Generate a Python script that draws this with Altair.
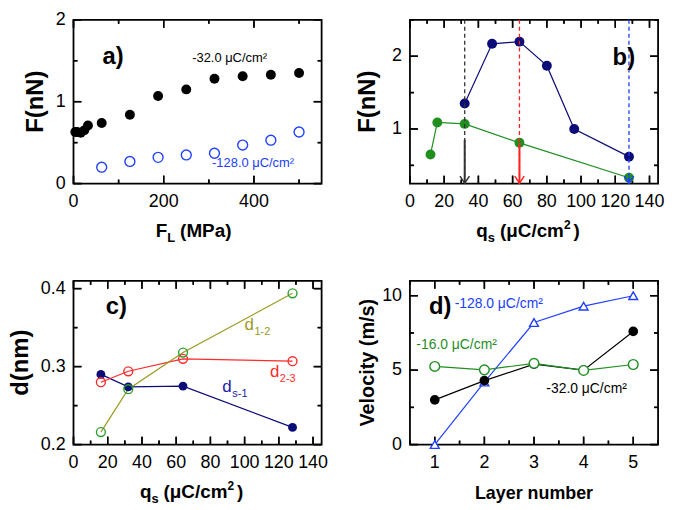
import altair as alt
import pandas as pd

W, H = 250, 165
FONT = "Liberation Sans"

# ---------------- data ----------------
# panel a: friction force vs load
a_load_32 = [4, 8, 16, 24, 32, 62.5, 125, 187.5, 250, 312.5, 375, 437.5, 500]
a_force_32 = [0.63, 0.63, 0.62, 0.65, 0.71, 0.74, 0.84, 1.07, 1.15, 1.28, 1.31, 1.33, 1.35]
a_load_128 = [62.5, 125, 187.5, 250, 312.5, 375, 437.5, 500]
a_force_128 = [0.20, 0.27, 0.32, 0.35, 0.37, 0.47, 0.53, 0.63]

# panel b: force vs surface charge
b_q_navy = [32, 48, 64, 80, 96, 128]
b_f_navy = [1.35, 2.17, 2.20, 1.87, 1.00, 0.62]
b_q_green = [12, 16, 32, 64, 128]
b_f_green = [0.65, 1.09, 1.07, 0.81, 0.33]
b_arrow_q = [32, 64, 128]
b_arrow_top = [0.85, 0.81, 0.33]
b_arrow_color = ["#333333", "#ff2020", "#2040ff"]

# panel c: interlayer distances
c_q = [16, 32, 64, 128]
c_ds1 = [0.290, 0.274, 0.275, 0.222]
c_d23 = [0.280, 0.294, 0.310, 0.307]
c_d12 = [0.216, 0.271, 0.318, 0.394]

# panel d: velocity per layer
d_layer = [1, 2, 3, 4, 5]
d_v128 = [0.0, 4.2, 8.2, 9.3, 10.0]
d_v32 = [3.0, 4.3, 5.4, 5.0, 7.6]
d_v16 = [5.25, 5.02, 5.46, 4.98, 5.38]

# axis domains / ticks
XA, YA = [0, 550], [0, 2]
XB, YB = [0, 145], [0.25, 2.5]
XC, YC = [0, 145], [0.2, 0.41]
XD, YD = [0.5, 5.5], [0, 11]

NAVY = "#0c0c78"
GREEN = "#1f8f1f"
BLUE = "#2040ff"
RED = "#ff2a2a"
OLIVE = "#9a9a1c"
LGREEN = "#2ca02c"

ONE = pd.DataFrame({"k": [0]})

CW = {"F": .611, "L": .611, "(": .333, ")": .333, "M": .833, "P": .667, "a": .556,
      "q": .611, "s": .556, "μ": .611, "C": .722, "/": .278, "c": .556, "m": .889,
      "2": .556, " ": .278}

MAJOR, MINOR = 8, 4  # inward tick lengths (px)


def sc(dom):
    return alt.Scale(domain=dom, nice=False, zero=False)


def frame(xdom, ydom, xmaj, xmin, ymaj, ymin, xfmt, yfmt, ytitle, ytsize, ytx):
    out = []
    # tick labels, placed through the scales
    xl = pd.DataFrame({"v": xmaj, "s": [format(v, xfmt) for v in xmaj]})
    out.append(alt.Chart(xl).mark_text(font=FONT, fontSize=18, color="black",
                                       baseline="top", dy=10).encode(
        x=alt.X("v:Q", scale=sc(xdom), axis=None),
        y=alt.Y(datum=ydom[0], scale=sc(ydom), axis=None), text="s:N"))
    yl = pd.DataFrame({"v": ymaj, "s": [format(v, yfmt) for v in ymaj]})
    out.append(alt.Chart(yl).mark_text(font=FONT, fontSize=18, color="black",
                                       align="right", baseline="middle", dx=-8).encode(
        y=alt.Y("v:Q", scale=sc(ydom), axis=None),
        x=alt.X(datum=xdom[0], scale=sc(xdom), axis=None), text="s:N"))
    out.append(alt.Chart(ONE).mark_text(
        text=ytitle, font=FONT, fontSize=ytsize, fontWeight="bold", angle=270,
        align="center", baseline="middle", color="black").encode(
        x=alt.value(ytx), y=alt.value(H / 2)))
    # inward ticks on all four sides
    sx = (xdom[1] - xdom[0]) / W
    sy = (ydom[1] - ydom[0]) / H
    xt = [(v, MAJOR) for v in xmaj] + [(v, MINOR) for v in xmin]
    yt = [(v, MAJOR) for v in ymaj] + [(v, MINOR) for v in ymin]
    vt, ht = [], []
    for edge, sign in ((ydom[0], 1), (ydom[1], -1)):
        d = pd.DataFrame({"tv": [v for v, _ in xt], "tin": [edge + sign * l * sy for _, l in xt]})
        vt.append(d.assign(edge=edge))
        out.append(alt.Chart(d).mark_rule(color="black", strokeWidth=1.5).encode(
            x=alt.X("tv:Q", scale=sc(xdom), axis=None),
            y=alt.Y("tin:Q", scale=sc(ydom), axis=None),
            y2=alt.Y2(datum=edge)))
    for edge, sign in ((xdom[0], 1), (xdom[1], -1)):
        d = pd.DataFrame({"tv": [v for v, _ in yt], "tin": [edge + sign * l * sx for _, l in yt]})
        ht.append(d.assign(edge=edge))
        out.append(alt.Chart(d).mark_rule(color="black", strokeWidth=1.5).encode(
            y=alt.Y("tv:Q", scale=sc(ydom), axis=None),
            x=alt.X("tin:Q", scale=sc(xdom), axis=None),
            x2=alt.X2(datum=edge)))
    # the same ticks once more with both ends as fields
    out.append(alt.Chart(pd.concat(vt)).mark_rule(color="black", strokeWidth=1.5).encode(
        x=alt.X("tv:Q", scale=sc(xdom), axis=None),
        y=alt.Y("edge:Q", scale=sc(ydom), axis=None), y2=alt.Y2("tin")))
    out.append(alt.Chart(pd.concat(ht)).mark_rule(color="black", strokeWidth=1.5).encode(
        y=alt.Y("tv:Q", scale=sc(ydom), axis=None),
        x=alt.X("edge:Q", scale=sc(xdom), axis=None), x2=alt.X2("tin")))
    return out


def xtitle(segs, cx, y):
    """segs: list of (text, size, dy) or ('', gap, 0) for a gap."""
    total = 0
    for t, s, d in segs:
        total += s if t == "" else sum(CW.get(c, .6) for c in t) * s
    x = cx - total / 2
    out = []
    for t, s, d in segs:
        if t == "":
            x += s
            continue
        out.append(alt.Chart(ONE).mark_text(
            text=t, font=FONT, fontSize=s, fontWeight="bold", align="left",
            baseline="alphabetic", color="black").encode(
            x=alt.value(x), y=alt.value(y + d)))
        x += sum(CW.get(c, .6) for c in t) * s
    return out


def label(x, y, t, xdom, ydom, **kw):
    df = pd.DataFrame({"x": [x], "y": [y], "t": [t]})
    return alt.Chart(df).mark_text(font=FONT, **kw).encode(
        x=alt.X("x:Q", scale=sc(xdom), axis=None),
        y=alt.Y("y:Q", scale=sc(ydom), axis=None),
        text="t:N")


def series(xs, ys, xdom, ydom, color, line=True, shape="circle", filled=True, size=90,
           fill=None, sw=1.2):
    df = pd.DataFrame({"x": xs, "y": ys})
    enc = dict(x=alt.X("x:Q", scale=sc(xdom), axis=None),
               y=alt.Y("y:Q", scale=sc(ydom), axis=None))
    layers = []
    if line:
        layers.append(alt.Chart(df).mark_line(color=color, strokeWidth=sw).encode(**enc))
    pkw = dict(shape=shape, size=size, color=color, opacity=1, strokeWidth=1.4)
    if filled:
        pkw.update(filled=True)
    else:
        pkw.update(filled=False)
        if fill:
            pkw.update(fill=fill, fillOpacity=1)
    pts = alt.Chart(df).mark_point(**pkw).encode(**enc)
    return layers, pts


def panel(fr, layers):
    return alt.layer(*fr, *layers).properties(width=W, height=H)


QS = [("q", 19, 0), ("s", 13, 5), ("", 5, 0), ("(μC/cm", 19, 0), ("2", 12, -8),
      ("", 3, 0), (")", 19, 0)]

# ---------------- panel a ----------------
fa = frame(XA, YA, [0, 200, 400], [100, 300, 500],
           [0, 1, 2], [0.5, 1.5], "d", "d", "F(nN)", 24, -38)
_, pa1 = series(a_load_32, a_force_32, XA, YA, "black", line=False, size=100)
_, pa2 = series(a_load_128, a_force_128, XA, YA, BLUE, line=False, filled=False, size=100)
la = [pa1, pa2,
      label(88, 1.55, "a)", XA, YA, fontSize=24, fontWeight="bold", color="black"),
      label(346, 1.53, "-32.0 μC/cm²", XA, YA, fontSize=13, color="black"),
      label(398, 0.255, "-128.0 μC/cm²", XA, YA, fontSize=13, color=BLUE)]
la += xtitle([("F", 19, 0), ("L", 13, 5), ("", 5, 0), ("(MPa)", 19, 0)], W / 2 - 4, H + 54)
chart_a = panel(fa, la)

# ---------------- panel b ----------------
fb = frame(XB, YB, list(range(0, 141, 20)), list(range(10, 141, 20)),
           [1, 2], [0.5, 1.5, 2.5], "d", "d", "F(nN)", 24, -42)
arr = pd.DataFrame({"q": b_arrow_q, "top": b_arrow_top, "c": b_arrow_color})
xq = alt.X("q:Q", scale=sc(XB), axis=None)
dashed = alt.Chart(arr).mark_rule(strokeDash=[4, 3], strokeWidth=1.3).encode(
    x=xq, y=alt.Y(datum=YB[1], scale=sc(YB), axis=None),
    y2=alt.Y2(datum=YB[0]), color=alt.Color("c:N", scale=None))
shaft = alt.Chart(arr).mark_rule(strokeWidth=2).encode(
    x=xq, y=alt.Y("top:Q", scale=sc(YB), axis=None),
    y2=alt.Y2(datum=YB[0]), color=alt.Color("c:N", scale=None))
head = alt.Chart(arr).mark_point(
    shape="M-1,-1.5L0,0L1,-1.5", filled=False, size=90, strokeWidth=1.5, opacity=1).encode(
    x=xq, y=alt.Y(datum=YB[0] + 0.005, scale=sc(YB), axis=None),
    color=alt.Color("c:N", scale=None))
lnb1, pb1 = series(b_q_navy, b_f_navy, XB, YB, NAVY, size=100)
lnb2, pb2 = series(b_q_green, b_f_green, XB, YB, GREEN, size=100)
lb = lnb1 + lnb2 + [pb1, pb2, dashed, shaft, head,
                    label(125, 1.98, "b)", XB, YB, fontSize=24, fontWeight="bold", color="black")]
lb += xtitle(QS, W / 2 - 6, H + 54)
chart_b = panel(fb, lb)

# ---------------- panel c ----------------
fc = frame(XC, YC, list(range(0, 141, 20)), list(range(10, 141, 20)),
           [0.2, 0.3, 0.4], [0.25, 0.35], "d", ".1f", "d(nm)", 24, -53)
lc1, pc1 = series(c_q, c_ds1, XC, YC, NAVY, size=80)
lc2, pc2 = series(c_q, c_d23, XC, YC, RED, filled=False, size=80)
lc3, _ = series(c_q, c_d12, XC, YC, OLIVE, size=80)
_, pc3 = series(c_q, c_d12, XC, YC, LGREEN, line=False, filled=False, size=80)
lc = lc1 + lc2 + lc3 + [pc1, pc2, pc3,
                        label(25, 0.376, "c)", XC, YC, fontSize=24, fontWeight="bold", color="black"),
                        label(100, 0.3527, "d", XC, YC, fontSize=17, color=OLIVE, align="left"),
                        label(100, 0.3527, "1-2", XC, YC, fontSize=11, color=OLIVE, align="left", dx=10, dy=7),
                        label(114.8, 0.2933, "d", XC, YC, fontSize=17, color=RED, align="left"),
                        label(114.8, 0.2933, "2-3", XC, YC, fontSize=11, color=RED, align="left", dx=10, dy=7),
                        label(87, 0.2742, "d", XC, YC, fontSize=17, color="#2020a8", align="left"),
                        label(87, 0.2742, "s-1", XC, YC, fontSize=11, color="#2020a8", align="left", dx=10, dy=7)]
lc += xtitle(QS, W / 2 - 6, H + 54)
chart_c = panel(fc, lc)

# ---------------- panel d ----------------
fd = frame(XD, YD, [1, 2, 3, 4, 5], [0.5, 1.5, 2.5, 3.5, 4.5, 5.5],
           [0, 5, 10], [2.5, 7.5], "d", "d", "Velocity (m/s)", 20, -42)
ld1, pd1 = series(d_layer, d_v128, XD, YD, BLUE, shape="triangle-up", filled=False,
                  fill="white", size=80)
ld2, pd2 = series(d_layer, d_v32, XD, YD, "black", size=95)
ld3, pd3 = series(d_layer, d_v16, XD, YD, GREEN, filled=False, fill="white", size=95)
ldl = ld1 + ld2 + ld3 + [pd1, pd2, pd3,
                         label(1.11, 9.22, "d)", XD, YD, fontSize=24, fontWeight="bold", color="black"),
                         label(2.29, 9.44, "-128.0 μC/cm²", XD, YD, fontSize=14, color=BLUE),
                         label(1.44, 6.69, "-16.0 μC/cm²", XD, YD, fontSize=14, color=GREEN),
                         label(4.06, 3.75, "-32.0 μC/cm²", XD, YD, fontSize=14, color="black")]
ldl += [alt.Chart(ONE).mark_text(text="Layer number", font=FONT, fontSize=18, fontWeight="bold",
                                 align="center", baseline="alphabetic", color="black").encode(
    x=alt.value(W / 2), y=alt.value(H + 55))]
chart_d = panel(fd, ldl)

chart = alt.concat(chart_a, chart_b, chart_c, chart_d, columns=2,
                   spacing={"row": 98, "column": 89}, bounds="flush").configure(
    font=FONT, padding={"left": 0, "top": 0, "right": 0, "bottom": 0},
    background="white").configure_view(
    stroke="black", strokeWidth=1.8)

chart.save("out.html", embed_options={"renderer": "svg", "actions": False})
